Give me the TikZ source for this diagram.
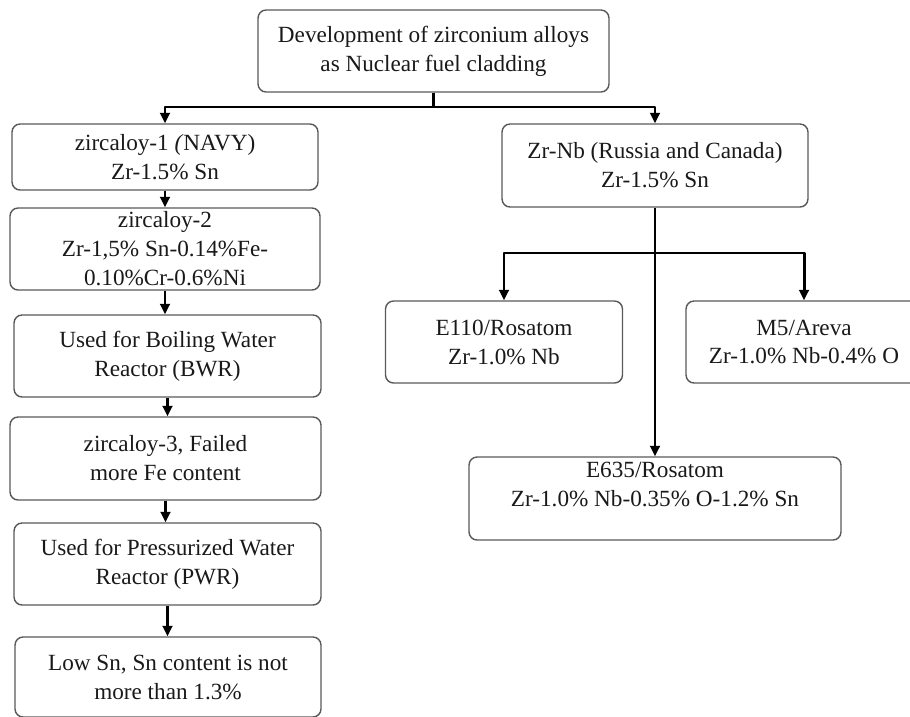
\documentclass[tikz,border=0pt]{standalone}
\usepackage{fontspec}
\setmainfont{Liberation Serif}
\usetikzlibrary{arrows.meta}
\begin{document}
\begin{tikzpicture}[>={Triangle[length=6pt,width=5.5pt]},line join=round,x=0.02cm,y=-0.02cm,
 font=\fontsize{13.2}{16.5}\selectfont,
 box/.style={draw=black!65,line width=0.8pt,rounded corners=0.16cm,align=center,inner sep=0pt,text=black!90},
 link/.style={->,line width=1.7pt}]
 \useasboundingbox (0,0) rectangle (910,717);
 % title
 \node[box,minimum width=7.02cm,minimum height=1.64cm] (dev) at (433.5,51) {Development of zirconium alloys\\as Nuclear fuel cladding};
 % left branch: zircaloy
 \node[box,minimum width=6.12cm,minimum height=1.32cm] (zry1) at (165,157) {zircaloy-1 \textit{(}NAVY)\\Zr-1.5\% Sn};
 \node[box,minimum width=6.2cm,minimum height=1.64cm] (zry2) at (165,249) {zircaloy-2\\Zr-1,5\% Sn-0.14\%Fe-\\0.10\%Cr-0.6\%Ni};
 \node[box,minimum width=6.14cm,minimum height=1.64cm] (bwr) at (167.5,356) {Used for Boiling Water\\Reactor (BWR)};
 \node[box,minimum width=6.22cm,minimum height=1.66cm] (zry3) at (165.5,458.5) {zircaloy-3, Failed\\more Fe content};
 \node[box,minimum width=6.14cm,minimum height=1.64cm] (pwr) at (167.5,564) {Used for Pressurized Water\\Reactor (PWR)};
 \node[box,minimum width=6.12cm,minimum height=1.6cm] (lowsn) at (168,677) {Low Sn, Sn content is not\\more than 1.3\%};
 % right branch: Zr-Nb
 \node[box,minimum width=6.12cm,minimum height=1.66cm] (zrnb) at (655,165.5) {Zr-Nb (Russia and Canada)\\Zr-1.5\% Sn};
 \node[box,minimum width=4.74cm,minimum height=1.64cm] (e110) at (504,342) {E110/Rosatom\\Zr-1.0\% Nb};
 \node[box,minimum width=4.72cm,minimum height=1.64cm] (m5) at (804,342) {M5/Areva\\Zr-1.0\% Nb-0.4\% O};
 \node[box,minimum width=7.44cm,minimum height=1.66cm] (e635) at (655,498.5) {E635/Rosatom\\Zr-1.0\% Nb-0.35\% O-1.2\% Sn\\\mbox{}};
 \coordinate (split) at (433.5,107);
 \coordinate (fork) at (655,253);
 \draw[link] (dev.south)--(split)-|(zry1.north);
 \draw[link] (split)-|(zrnb.north);
 \draw[link] (zry1.south)--(zry1.south|-zry2.north);
 \draw[link] (zry2.south)--(zry2.south|-bwr.north);
 \draw[link] (bwr.south)--(bwr.south|-zry3.north);
 \draw[link] (zry3.south)--(zry3.south|-pwr.north);
 \draw[link] (pwr.south)--(pwr.south|-lowsn.north);
 \draw[link] (zrnb.south)--(e635.north);
 \draw[link] (fork)-|(e110.north);
 \draw[link] (fork)-|(m5.north);
\end{tikzpicture}
\end{document}
